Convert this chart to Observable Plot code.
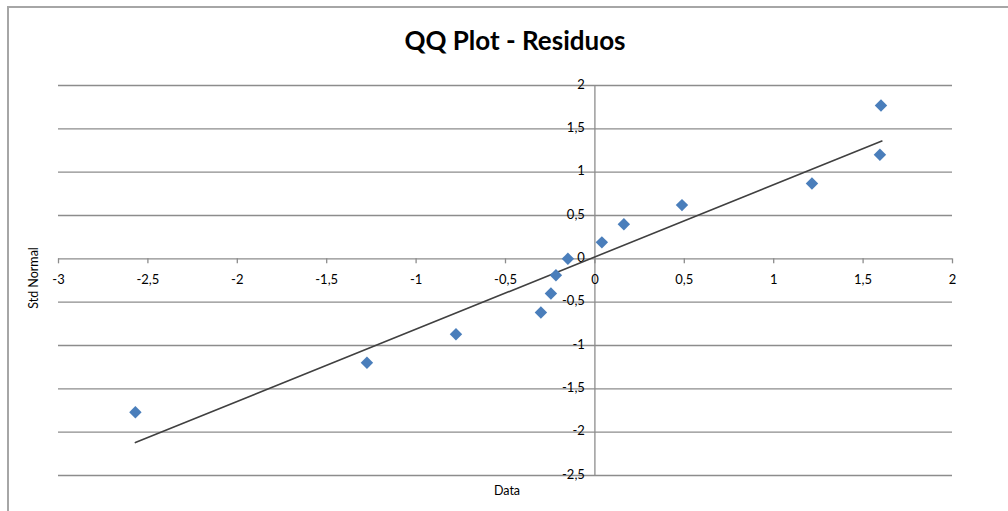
<!DOCTYPE html>
<html>
<head>
<meta charset="utf-8">
<script src="https://cdn.jsdelivr.net/npm/d3@7"></script>
<script src="https://cdn.jsdelivr.net/npm/@observablehq/plot@0.6"></script>
<style>
  html, body { margin: 0; padding: 0; background: #fff; }
  #wrap { position: relative; width: 1008px; height: 511px; overflow: hidden; font-family: Lato, "Open Sans", sans-serif; }
  #frame { position: absolute; left: 7px; top: 6px; width: 1020px; height: 530px; border: 2px solid #a6a6a6; box-sizing: border-box; }
  #title { position: absolute; left: 0; width: 1030px; top: 24px; text-align: center; font-size: 26px; font-weight: bold; color: #000; }
  #ylab { position: absolute; left: 33px; top: 278px; transform: translate(-50%, -50%) rotate(-90deg); font-size: 12.5px; white-space: nowrap; color: #000; }
  #xlab { position: absolute; left: 507px; top: 490px; transform: translate(-50%, -50%); font-size: 12.5px; color: #000; }
  #chart { position: absolute; left: 0; top: 0; }
</style>
</head>
<body>
<div id="wrap">
  <div id="frame"></div>
  <div id="chart"></div>
  <div id="title">QQ Plot - Residuos</div>
  <div id="ylab">Std Normal</div>
  <div id="xlab">Data</div>
</div>
<script>
// Data: residuals (x) vs standard normal quantiles (y)
const residuals = [-2.57, -1.275, -0.777, -0.302, -0.246, -0.218, -0.151, 0.039, 0.162, 0.487, 1.214, 1.594, 1.60];
const stdNormal = [-1.77, -1.20, -0.87, -0.62, -0.40, -0.19, 0.0, 0.19, 0.40, 0.62, 0.87, 1.20, 1.77];
// Trend line endpoints
const trendX = [-2.57, 1.605];
const trendY = [-2.12, 1.36];
// Tick values
const xTicks = [-3, -2.5, -2, -1.5, -1, -0.5, 0, 0.5, 1, 1.5, 2];
const yTicks = [-2.5, -2, -1.5, -1, -0.5, 0, 0.5, 1, 1.5, 2];

const points = residuals.map((x, i) => ({x, y: stdNormal[i]}));
const trend = trendX.map((x, i) => ({x, y: trendY[i]}));
const fmt = d => String(d).replace(".", ",");

const chart = Plot.plot({
  width: 1008,
  height: 511,
  marginLeft: 58,
  marginRight: 56,
  marginTop: 85,
  marginBottom: 36,
  style: {fontFamily: "Lato, 'Open Sans', sans-serif", fontSize: "13px", background: "transparent", overflow: "visible"},
  x: {domain: [-3, 2], axis: null},
  y: {domain: [-2.5, 2], axis: null},
  marks: [
    // horizontal gridlines
    Plot.ruleY(yTicks, {y: d => d, stroke: "#8c8c8c", strokeWidth: 1.3, strokeOpacity: 1}),
    // vertical axis line at x = 0
    Plot.ruleX([0], {x: d => d, stroke: "#8c8c8c", strokeWidth: 1.3}),
    // x tick marks on the x = 0 baseline
    Plot.ruleX(xTicks, {x: d => d, y1: 0, y2: 0, insetBottom: -5, stroke: "#8c8c8c", strokeWidth: 1.3}),
    // x tick labels
    Plot.text(xTicks, {x: d => d, y: 0, text: fmt, dy: 21, fill: "#000", fontSize: 13}),
    // y tick labels
    Plot.text(yTicks, {x: 0, y: d => d, text: fmt, dx: -10, dy: -1, textAnchor: "end", fill: "#000", fontSize: 13}),
    // trend line
    Plot.line(trend, {x: "x", y: "y", stroke: "#404040", strokeWidth: 1.6}),
    // points
    Plot.dot(points, {x: "x", y: "y", symbol: "diamond2", r: 5.6, fill: "#4a7ebb", stroke: "none"})
  ]
});
document.getElementById("chart").appendChild(chart);
</script>
</body>
</html>
